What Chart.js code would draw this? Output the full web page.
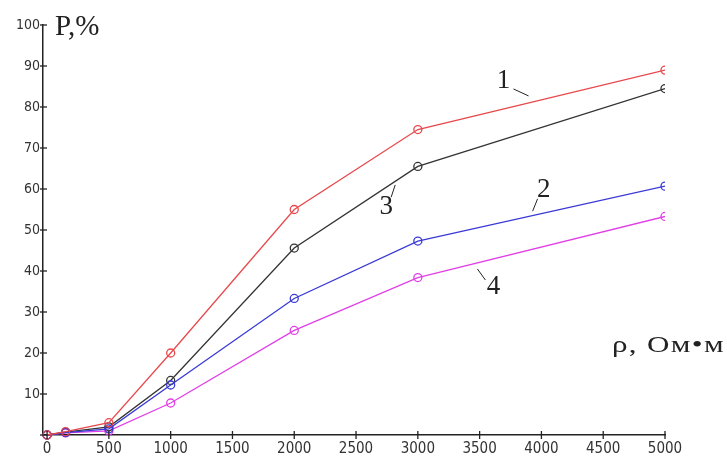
<!DOCTYPE html>
<html>
<head>
<meta charset="utf-8">
<script src="https://cdn.jsdelivr.net/npm/chart.js@4"></script>
<style>
html,body{margin:0;padding:0;background:#fff;}
#wrap{width:727px;height:461px;position:relative;}
</style>
</head>
<body>
<div id="wrap"><canvas id="c" width="727" height="461"></canvas></div>
<script>
const rho = [0, 150, 500, 1000, 2000, 3000, 5000];
const curve1 = [0, 0.8, 3, 20, 55, 74.5, 89];
const curve2 = [0, 0.6, 1.5, 12.2, 33.3, 47.3, 60.7];
const curve3 = [0, 0.7, 2, 13.3, 45.6, 65.5, 84.5];
const curve4 = [0, 0.5, 1, 7.8, 25.5, 38.4, 53.3];
const xTicks = [0, 500, 1000, 1500, 2000, 2500, 3000, 3500, 4000, 4500, 5000];
const yTicks = [0, 10, 20, 30, 40, 50, 60, 70, 80, 90, 100];
const curveLabels = ['1', '2', '3', '4'];
const yTitle = 'P,%';
const xTitle = 'ρ, Ом•м';

function pts(vals){ return rho.map((x,i)=>({x:x, y:vals[i]})); }

const labelPos = [
  {t:curveLabels[0], x:3693, y:86.3, l:[[3774,84.4],[3896,82.7]]},
  {t:curveLabels[1], x:4018, y:59.8, l:[[3969,57.6],[3929,54.6]]},
  {t:curveLabels[2], x:2744, y:55.6, l:[[2784,58],[2817,61]]},
  {t:curveLabels[3], x:3612, y:36.1, l:[[3482,40.5],[3547,37.8]]}
];

const clipper = {
  id:'clipper',
  beforeDatasetsDraw(chart){
    const ctx = chart.ctx, a = chart.chartArea;
    ctx.save();
    ctx.beginPath();
    ctx.rect(a.left - 8, a.top - 8, a.right - a.left + 8, a.bottom - a.top + 16);
    ctx.clip();
  },
  afterDatasetsDraw(chart){ chart.ctx.restore(); }
};

const annot = {
  id:'annot',
  afterDraw(chart){
    const ctx = chart.ctx, xs = chart.scales.x, ys = chart.scales.y;
    ctx.save();
    ctx.fillStyle = '#222';
    ctx.strokeStyle = '#222';
    ctx.lineWidth = 1;
    ctx.font = '27px "Liberation Serif", "DejaVu Serif", serif';
    ctx.textAlign = 'center';
    ctx.textBaseline = 'middle';
    labelPos.forEach(p=>{
      ctx.fillText(p.t, xs.getPixelForValue(p.x), ys.getPixelForValue(p.y));
      ctx.beginPath();
      ctx.moveTo(xs.getPixelForValue(p.l[0][0]), ys.getPixelForValue(p.l[0][1]));
      ctx.lineTo(xs.getPixelForValue(p.l[1][0]), ys.getPixelForValue(p.l[1][1]));
      ctx.stroke();
    });
    // tick marks crossing the axes
    ctx.lineWidth = 1.3;
    xTicks.forEach(v=>{
      const px = xs.getPixelForValue(v);
      ctx.beginPath(); ctx.moveTo(px, ys.bottom - 4); ctx.lineTo(px, ys.bottom + 4); ctx.stroke();
    });
    yTicks.forEach(v=>{
      const py = ys.getPixelForValue(v);
      ctx.beginPath(); ctx.moveTo(xs.left - 3, py); ctx.lineTo(xs.left + 4, py); ctx.stroke();
    });
    ctx.textAlign = 'left';
    ctx.font = '29px "Liberation Serif", "DejaVu Serif", serif';
    ctx.fillText(yTitle, xs.left + 12, ys.top + 2);
    ctx.font = '23px "Liberation Serif", "DejaVu Serif", serif';
    try { ctx.letterSpacing = '1px'; } catch(e) {}
    ctx.translate(xs.right - 53, ys.bottom - 89);
    ctx.scale(1.35, 1);
    ctx.fillText(xTitle, 0, 0);
    ctx.restore();
  }
};

function ds(label, vals, color){
  return {label:label, data:pts(vals), borderColor:color, backgroundColor:'rgba(0,0,0,0)',
    borderWidth:1.3, pointRadius:4, pointBorderWidth:1.3, pointBorderColor:color,
    pointBackgroundColor:'rgba(255,255,255,0)', tension:0, clip:false};
}

const tickFont = '"DejaVu Sans Condensed", "Liberation Sans Narrow", sans-serif';

new Chart(document.getElementById('c'), {
  type:'line',
  data:{datasets:[
    ds('1', curve1, '#e8484c'),
    ds('2', curve2, '#3a3ad6'),
    ds('3', curve3, '#333333'),
    ds('4', curve4, '#e040e6')
  ]},
  options:{
    responsive:false, animation:false,
    layout:{padding:{top:25, right:62, left:0, bottom:0}},
    plugins:{legend:{display:false}, tooltip:{enabled:false}},
    scales:{
      x:{type:'linear', min:-33, max:5000,
        afterBuildTicks(s){ s.ticks = xTicks.map(v=>({value:v})); },
        afterFit(s){ s.height = 26; },
        border:{color:'#222', width:1.5},
        grid:{drawOnChartArea:false, drawTicks:false, tickLength:0},
        ticks:{color:'#333', font:{family:tickFont, size:15}, padding:5, maxRotation:0,
          callback:(v)=> String(v)}
      },
      y:{type:'linear', min:0, max:100,
        afterBuildTicks(s){ s.ticks = yTicks.map(v=>({value:v})); },
        afterFit(s){ s.width = 43; },
        border:{color:'#222', width:1.5},
        grid:{drawOnChartArea:false, drawTicks:false, tickLength:0},
        ticks:{color:'#333', font:{family:tickFont, size:14}, padding:3,
          callback:(v)=> v===0 ? '' : String(v)}
      }
    }
  },
  plugins:[clipper, annot]
});
</script>
</body>
</html>
